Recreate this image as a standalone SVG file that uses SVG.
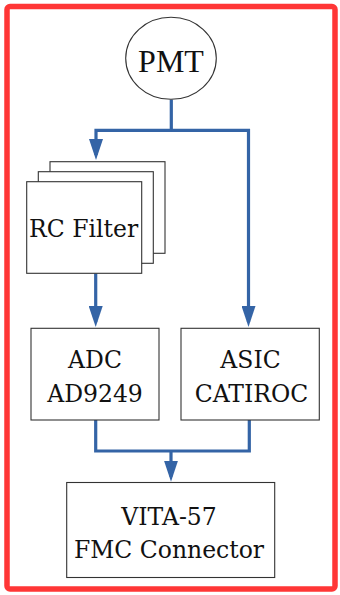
<svg xmlns="http://www.w3.org/2000/svg" width="340" height="595" viewBox="0 0 340 595">
<style>
.box{fill:#fff;stroke:#333;stroke-width:1.1}
.lbl{font-family:"DejaVu Serif","Liberation Serif",serif;font-size:23.5px;fill:#111;text-anchor:middle}
.pmt{font-family:"Liberation Serif",serif;font-size:32px;fill:#111;text-anchor:middle}
.wire{fill:none;stroke:#3464a6;stroke-width:3.2;stroke-linejoin:miter}
</style>
<defs>
<marker id="arr" viewBox="0 0 21 14" markerUnits="userSpaceOnUse" markerWidth="21" markerHeight="14" refX="16" refY="7" orient="auto">
<path d="M0,0 L21,7 L0,14 z" fill="#3464a6"/>
</marker>
</defs>
<rect x="7" y="6.5" width="328" height="582.5" rx="3" fill="none" stroke="#ff3636" stroke-width="5.5"/>
<g id="connectors">
<path class="wire" d="M171.3,99.5 V130.3 H96 V155" marker-end="url(#arr)"/>
<path class="wire" d="M171.3,130.3 H248.5 V322" marker-end="url(#arr)"/>
<path class="wire" d="M95.7,273.3 V322" marker-end="url(#arr)"/>
<path class="wire" d="M95.7,420 V451 H249.3 V420"/>
<path class="wire" d="M171,451 V476.7" marker-end="url(#arr)"/>
</g>
<g id="pmt">
<ellipse cx="171" cy="58.3" rx="45.3" ry="41" fill="#fff" stroke="#333" stroke-width="1.1"/>
<text class="pmt" x="171" y="72">PMT</text>
</g>
<g id="rc-filter">
<rect class="box" x="50" y="161.7" width="115" height="91.6"/>
<rect class="box" x="38.3" y="171.7" width="115" height="91.6"/>
<rect class="box" x="26.7" y="181.7" width="115" height="91.6"/>
<text class="lbl" x="83.6" y="237.3">RC Filter</text>
</g>
<g id="adc">
<rect class="box" x="31" y="328.3" width="128" height="91.7"/>
<text class="lbl" x="95" y="368.3">ADC</text>
<text class="lbl" x="95" y="401.7">AD9249</text>
</g>
<g id="asic">
<rect class="box" x="181" y="328.3" width="138.3" height="91.7"/>
<text class="lbl" x="250.5" y="368.3">ASIC</text>
<text class="lbl" x="251.5" y="401.7">CATIROC</text>
</g>
<g id="fmc">
<rect class="box" x="66.7" y="482.5" width="208" height="95"/>
<text class="lbl" x="169" y="525">VITA-57</text>
<text class="lbl" x="169" y="558.3">FMC Connector</text>
</g>
</svg>
